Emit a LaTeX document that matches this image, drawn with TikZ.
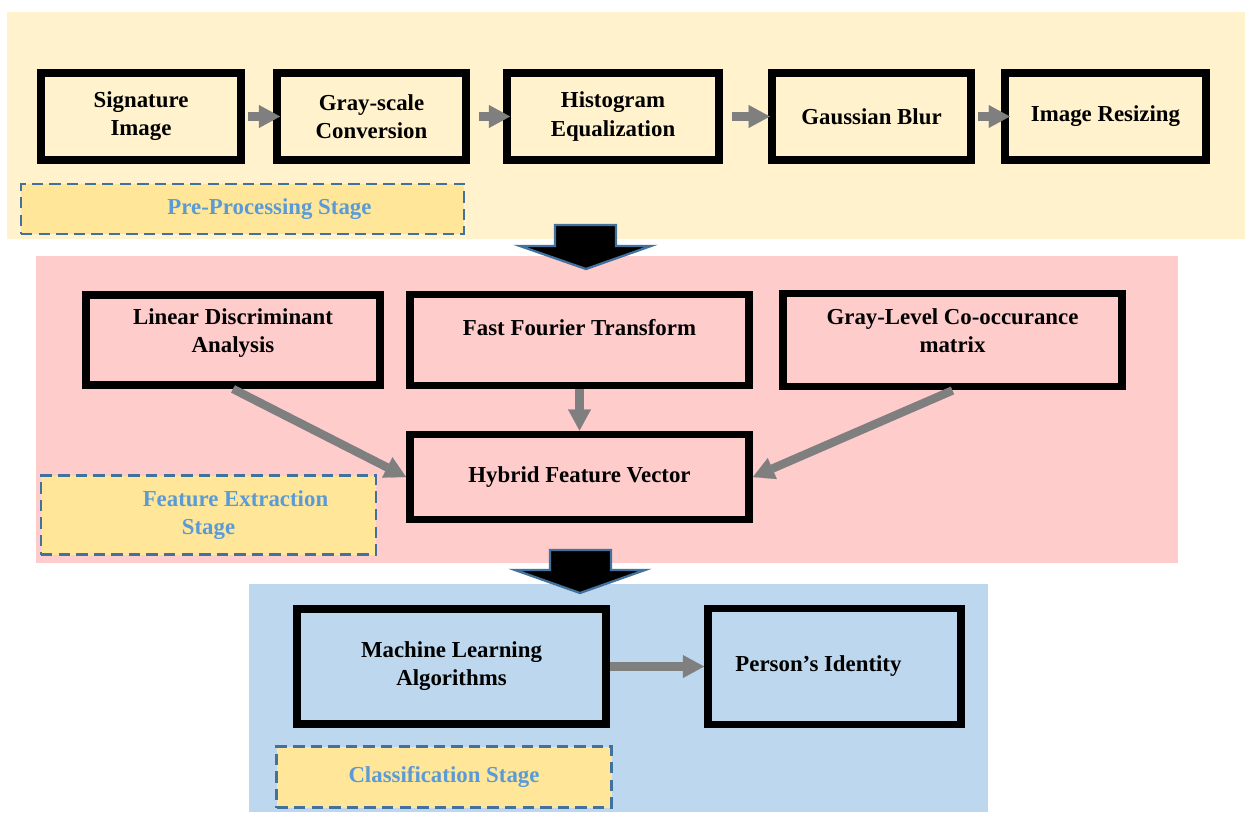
\documentclass[tikz,border=0pt]{standalone}
\usepackage{fontspec}
\setmainfont{Liberation Serif}
\usetikzlibrary{positioning,arrows.meta}
\definecolor{prebg}{HTML}{FFF2CC}
\definecolor{featbg}{HTML}{FFCCCC}
\definecolor{classbg}{HTML}{BDD7EE}
\definecolor{stagefill}{HTML}{FFE699}
\definecolor{stageline}{HTML}{41719C}
\definecolor{stagetext}{HTML}{5B9BD5}
\definecolor{arrowgray}{HTML}{7F7F7F}
\begin{document}
\begin{tikzpicture}[
  box/.style={rectangle, draw, line width=4.5pt, align=center, minimum width=4cm, minimum height=1.74cm, font=\bfseries\fontsize{13}{16}\selectfont},
  stagebox/.style={rectangle, draw=stageline, fill=stagefill, dash pattern=on 6.5pt off 3.5pt, line width=1.5pt, text=stagetext, align=center, font=\bfseries\fontsize{13}{16}\selectfont},
  flow/.style={-{Triangle[width=13pt,length=12pt,line width=0.1pt]}, line width=4.8pt, draw=arrowgray, fill=arrowgray},
  bigarrow/.style={fill=black, draw=stageline, line width=1.3pt, line join=miter},
  node distance=4.6cm
]
\useasboundingbox (0,0) rectangle (24.9,-16.24);

% stage panels
\fill[prebg] (0.14,-0.24) rectangle (24.9,-4.78);
\fill[featbg] (0.72,-5.12) rectangle (23.56,-11.26);
\fill[classbg] (4.98,-11.68) rectangle (19.76,-16.24);

% pre-processing
\node[box] (sig) at (2.82,-2.33) {Signature\\Image};
\node[box, right of=sig, node distance=4.61cm, minimum width=3.78cm] (gray) {Gray-scale\\Conversion};
\node[box, right of=gray, node distance=4.83cm, minimum width=4.24cm] (hist) {Histogram\\Equalization};
\node[box, right of=hist, node distance=5.17cm, minimum width=3.98cm] (blur) {Gaussian Blur};
\node[box, right of=blur, node distance=4.68cm, minimum width=4.02cm] (resize) {Image Resizing};
\node[stagebox, minimum width=8.86cm, minimum height=1.0cm] (prestage) at (4.85,-4.18) {\hspace*{1.08cm}Pre-Processing Stage};

\draw[flow, shorten <=2pt, shorten >=-4pt] (sig) -- (gray);
\draw[flow, shorten <=5pt, shorten >=-4pt] (gray) -- (hist);
\draw[flow, shorten <=5pt, shorten >=-1pt] (hist) -- (blur);
\draw[flow, shorten <=2pt, shorten >=-5pt] (blur) -- (resize);

% feature extraction
\node[box, minimum width=5.88cm, minimum height=1.8cm] (lda) at (4.66,-6.8) {Linear Discriminant\\Analysis\\[-5pt]\mbox{}};
\node[box, right of=lda, node distance=6.93cm, minimum width=6.78cm, minimum height=1.82cm] (fft) {Fast Fourier Transform\\[-2pt]\mbox{}};
\node[box, right of=fft, node distance=7.46cm, minimum width=6.78cm, minimum height=1.86cm] (glcm) {Gray-Level Co-occurance\\matrix\\[-5pt]\mbox{}};
\node[box, below of=fft, node distance=2.74cm, minimum width=6.78cm, minimum height=1.7cm] (hybrid) {Hybrid Feature Vector};
\node[stagebox, minimum width=6.7cm, minimum height=1.58cm] (featstage) at (4.17,-10.3) {\hspace*{1.08cm}Feature Extraction\\Stage};

\draw[flow] (lda.south) -- (hybrid.west);
\draw[flow] (fft) -- (hybrid);
\draw[flow] (glcm.south) -- (hybrid.east);

% classification
\node[box, minimum width=6.18cm, minimum height=2.3cm] (ml) at (9.03,-13.33) {Machine Learning\\Algorithms};
\node[box, right of=ml, node distance=7.66cm, minimum width=5.06cm, minimum height=2.32cm] (person) {Person's Identity\hspace*{0.64cm}};
\node[stagebox, minimum width=6.7cm, minimum height=1.22cm] (classstage) at (8.88,-15.54) {Classification Stage};

\draw[flow] (ml) -- (person);

% stage to stage
\draw[bigarrow] (11.1,-4.5) -- (12.32,-4.5) -- (12.32,-4.92) -- (13.02,-4.92) -- (11.72,-5.38) -- (10.4,-4.92) -- (11.1,-4.92) -- cycle;
\draw[bigarrow] (11.0,-11.0) -- (12.22,-11.0) -- (12.22,-11.4) -- (12.9,-11.4) -- (11.6,-11.86) -- (10.3,-11.4) -- (11.0,-11.4) -- cycle;
\end{tikzpicture}
\end{document}
